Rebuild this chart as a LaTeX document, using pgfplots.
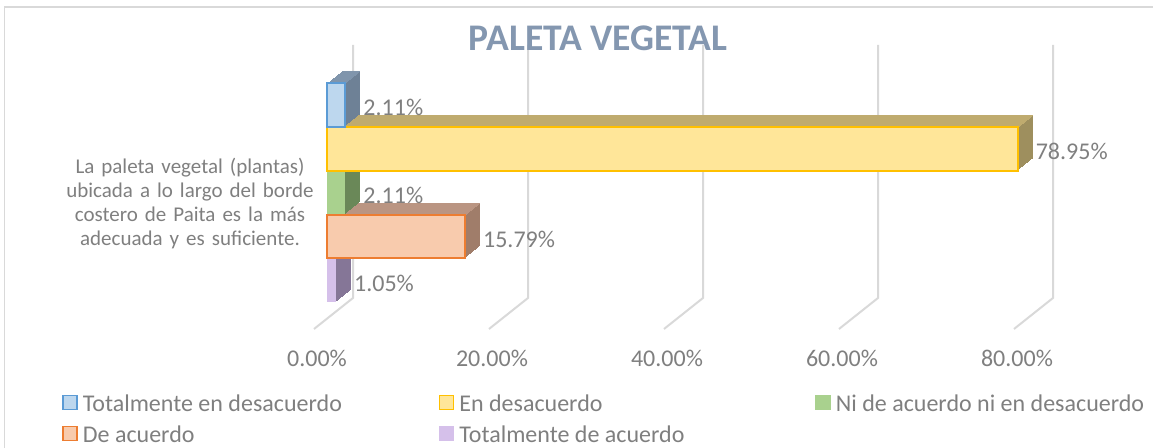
\documentclass[border=0pt]{standalone}
\usepackage{pgfplots}
\pgfplotsset{compat=1.18}
\usepackage{pgfplotstable}
\usepackage{fontspec}
\setmainfont{Carlito}

\definecolor{blueF}{HTML}{BDD7EE}
\definecolor{blueL}{HTML}{5B9BD5}
\definecolor{blueS}{HTML}{6E8196}
\definecolor{blueT}{HTML}{8095AC}
\definecolor{yelF}{HTML}{FFE699}
\definecolor{yelL}{HTML}{FFC000}
\definecolor{yelS}{HTML}{9E8F5E}
\definecolor{yelT}{HTML}{BFAB6F}
\definecolor{grnF}{HTML}{A9D18E}
\definecolor{grnS}{HTML}{6A8858}
\definecolor{grnT}{HTML}{7F9D6B}
\definecolor{orgF}{HTML}{F8CBAD}
\definecolor{orgL}{HTML}{ED7D31}
\definecolor{orgS}{HTML}{A07D6A}
\definecolor{orgT}{HTML}{BA9582}
\definecolor{purF}{HTML}{D5C0EA}
\definecolor{purS}{HTML}{857697}
\definecolor{purT}{HTML}{9E8DB2}
\definecolor{txt}{HTML}{7F7F7F}
\definecolor{gridc}{HTML}{D9D9D9}
\definecolor{ttl}{HTML}{8497B0}

% one table per series: value, row position
\pgfplotstableread{
x y
2.11 5
}\tblA
\pgfplotstableread{
x y
78.95 4
}\tblB
\pgfplotstableread{
x y
2.11 3
}\tblC
\pgfplotstableread{
x y
15.79 2
}\tblD
\pgfplotstableread{
x y
1.05 1
}\tblE

% depth (3D) of a bar: side face, then top face
\newcommand\depthbars[3]{%
  \pgfplotsinvokeforeach{15,14,...,1}{%
    \addplot[xbar,bar shift=0,bar width=0.99,fill=#2,draw=none,forget plot,
      xshift=##1*0.5pt,yshift=##1*0.4pt] table[x=x,y=y] {#1};
  }%
  \pgfplotsinvokeforeach{15,14,...,1}{%
    \addplot[xbar,bar shift=0,bar width=0.03,fill=#3,draw=none,forget plot,
      xshift=##1*0.5pt,yshift=10.535pt+##1*0.4pt] table[x=x,y=y] {#1};
  }%
}

\pgfplotsset{
  frontbar/.style={xbar,bar shift=0,bar width=0.99,forget plot,line width=1pt,
    point meta=x,
    nodes near coords={\pgfmathprintnumber[fixed,fixed zerofill,precision=2]{\pgfplotspointmeta}\%},
    nodes near coords style={anchor=west,inner sep=0pt,xshift=8.5pt,yshift=-1.25pt,
      font=\fontsize{12}{14}\selectfont,text=txt}},
}

\begin{document}
\begin{tikzpicture}
\path[use as bounding box] (0pt,0pt) rectangle (576.5pt,224pt);
\draw[gridc,line width=0.75pt] (2.25pt,0pt) -- (2.25pt,220.5pt) -- (576.5pt,220.5pt);

% back-wall gridlines and tick labels
\begin{axis}[
  at={(176.5pt,75pt)},anchor=south west,scale only axis,
  width=350pt,height=126.5pt,
  xmin=0,xmax=80,ymin=0,ymax=1,
  clip=false,
  axis line style={draw=none},
  major tick length=0pt,
  ytick=\empty,
  xtick={0,20,40,60,80},
  xticklabels={0.00\%,20.00\%,40.00\%,60.00\%,80.00\%},
  xticklabel style={anchor=center,xshift=-18pt,yshift=-30pt,
    font=\fontsize{12}{14}\selectfont,text=txt},
]
\addplot[gridc,line width=1pt] coordinates {(0,1) (0,0) (-4.457,-0.1225)};
\addplot[gridc,line width=1pt] coordinates {(20,1) (20,0) (15.543,-0.1225)};
\addplot[gridc,line width=1pt] coordinates {(40,1) (40,0) (35.543,-0.1225)};
\addplot[gridc,line width=1pt] coordinates {(60,1) (60,0) (55.543,-0.1225)};
\addplot[gridc,line width=1pt] coordinates {(80,1) (80,0) (75.543,-0.1225)};
\end{axis}

% bars
\begin{axis}[
  at={(163.5pt,72.775pt)},anchor=south west,scale only axis,
  width=350pt,height=109.75pt,
  xmin=0,xmax=80,ymin=0.5,ymax=5.5,
  clip=false,
  axis line style={draw=none},
  major tick length=0pt,
  xtick=\empty,
  ytick={3},
  yticklabels={{La paleta vegetal (plantas)\\ubicada a lo largo del borde\\costero de Paita es la más\\adecuada y es suficiente.}},
  yticklabel style={align=center,text width=125pt,anchor=center,
    xshift=-68.5pt,yshift=-5.5pt,
    font=\fontsize{10.5}{12}\selectfont,text=txt},
  /pgf/number format/assume math mode=true,
  legend columns=3,
  legend image code/.code={\draw[#1,line width=0.75pt] (0pt,-2.5pt) rectangle (7pt,4.5pt);},
  legend style={at={(-0.3786,-0.4194)},anchor=north west,draw=none,fill=none,
    inner sep=0pt,font=\fontsize{12}{14}\selectfont,text=txt,
    nodes={inner sep=0pt},row sep=5.5pt,
    /tikz/every odd column/.append style={column sep=2.5pt}},
]
\depthbars{\tblE}{purS}{purT}
\addplot[frontbar,fill=purF,draw=none] table[x=x,y=y] {\tblE};
\depthbars{\tblD}{orgS}{orgT}
\addplot[frontbar,fill=orgF,draw=orgL] table[x=x,y=y] {\tblD};
\depthbars{\tblC}{grnS}{grnT}
\addplot[frontbar,fill=grnF,draw=none] table[x=x,y=y] {\tblC};
\depthbars{\tblB}{yelS}{yelT}
\addplot[frontbar,fill=yelF,draw=yelL] table[x=x,y=y] {\tblB};
\depthbars{\tblA}{blueS}{blueT}
\addplot[frontbar,fill=blueF,draw=blueL] table[x=x,y=y] {\tblA};

\addlegendimage{fill=blueF,draw=blueL}
\addlegendentry{\makebox[178pt][l]{Totalmente en desacuerdo}}
\addlegendimage{fill=yelF,draw=yelL}
\addlegendentry{\makebox[178pt][l]{En desacuerdo}}
\addlegendimage{fill=grnF,draw=grnF}
\addlegendentry{\makebox[178pt][l]{Ni de acuerdo ni en desacuerdo}}
\addlegendimage{fill=orgF,draw=orgL}
\addlegendentry{\makebox[178pt][l]{De acuerdo}}
\addlegendimage{fill=purF,draw=purF}
\addlegendentry{\makebox[178pt][l]{Totalmente de acuerdo}}
\end{axis}

\node[font=\fontsize{18.8}{22}\selectfont\bfseries,text=ttl] at (299pt,204.75pt) {PALETA VEGETAL};
\end{tikzpicture}
\end{document}
